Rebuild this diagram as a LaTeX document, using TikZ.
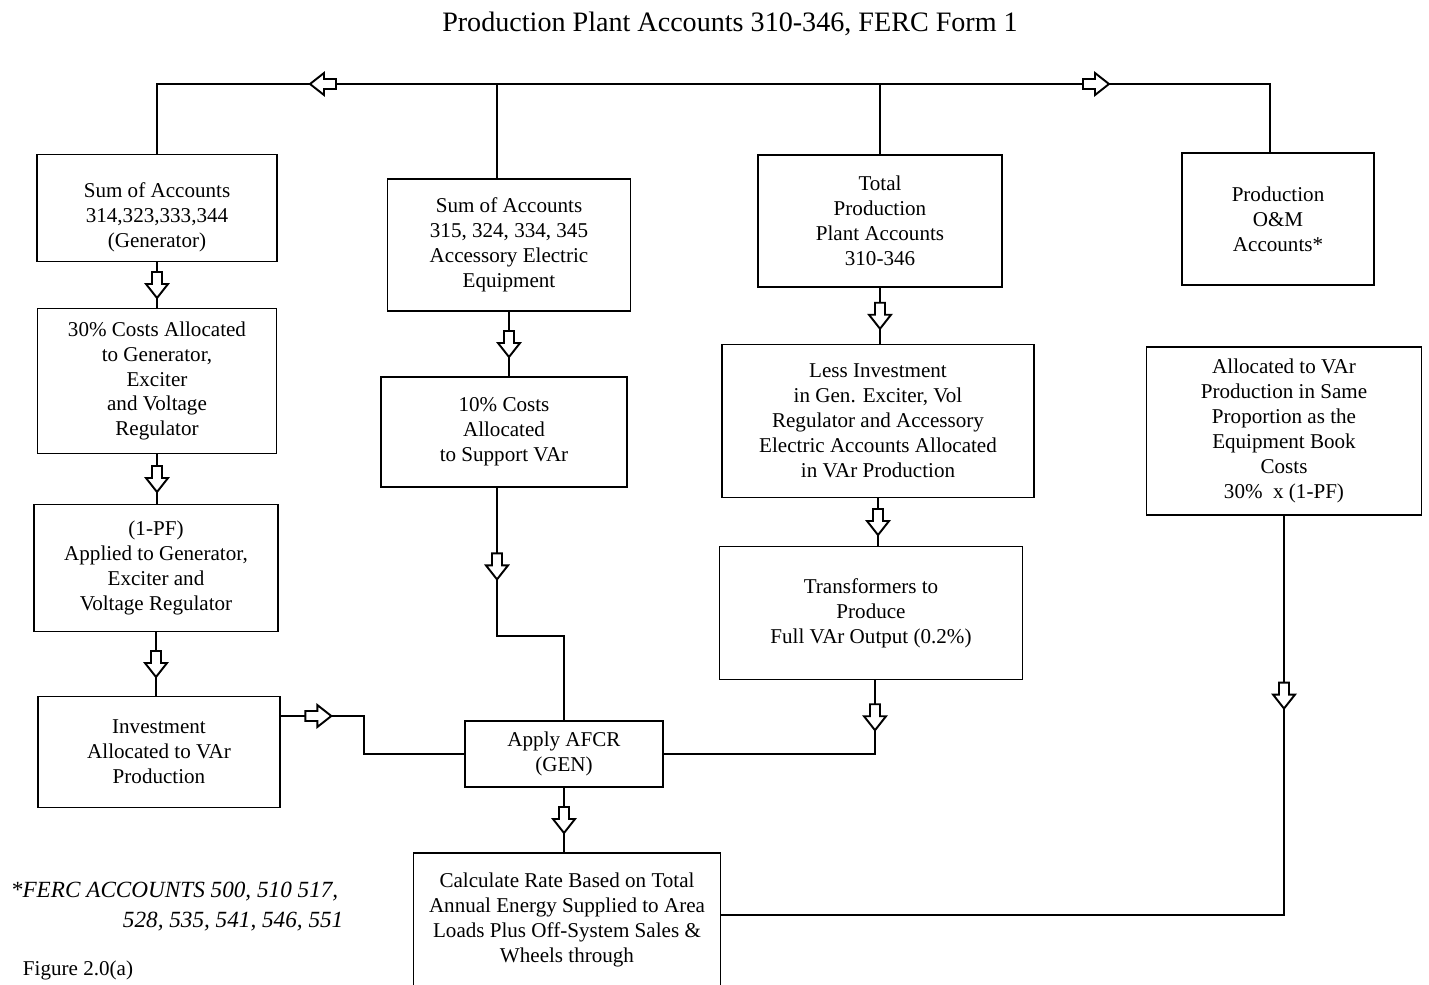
\documentclass[tikz,border=0pt]{standalone}
\usepackage{fontspec}
\setmainfont{Liberation Serif}
\usetikzlibrary{calc}

\tikzset{
  box/.style 2 args={draw, inner sep=0pt, align=center,
    minimum width=#1*0.02cm, minimum height=#2*0.02cm},
  txt/.style={inner sep=0pt},
  note/.style={inner sep=0pt, anchor=west, font=\fontsize{13.2}{15}\selectfont\itshape},
  pics/harrow/.style={code={
    \draw[fill=white] (-13,-5) -- (-1,-5) -- (-1,-11) -- (13,0)
      -- (-1,11) -- (-1,5) -- (-13,5) -- cycle;}}
}
% vertical link with a hollow arrow half way
\newcommand\vlink[2]{%
  \draw (#1.south) -- (#1.south |- #2.north) coordinate[midway] (#1-mid);
  \pic[rotate=-90] at (#1-mid) {harrow};}

\begin{document}
\begin{tikzpicture}[x=0.02cm, y=-0.02cm, line width=1.1pt,
    font=\fontsize{12}{14.2}\selectfont]
  \useasboundingbox (0,0) rectangle (1429,984);
  \clip (0,0) rectangle (1429,984);

  \node[txt] (title) at (730,24) {\fontsize{16}{20}\selectfont Production Plant Accounts 310-346, FERC Form 1};

  \node[box={240}{107}] (gen) at (157,208) {\rule{0pt}{19pt}Sum of Accounts\\314,323,333,344\\(Generator)};
  \node[box={243}{132}] (acc) at (509,245) {Sum of Accounts\\315, 324, 334, 345\\Accessory Electric\\Equipment};
  \node[box={244}{132}] (tot) at (880,221) {Total\\Production\\Plant Accounts\\310-346};
  \node[box={192}{132}] (om) at (1278,219) {Production\\O\&M\\Accounts*};

  \node[box={239}{145}] (gen30) at (157,381) {30\% Costs Allocated\\to Generator,\\Exciter\\and Voltage\\Regulator};
  \node[box={244}{127}] (pf) at (156,568) {(1-PF)\\Applied to Generator,\\Exciter and\\Voltage Regulator};
  \node[box={242}{111}] (inv) at (159,752) {Investment\\Allocated to VAr\\Production};
  \node[box={246}{110}] (acc10) at (504,432) {10\% Costs\\Allocated\\to Support VAr};
  \node[box={312}{153}] (less) at (878,421) {Less Investment\\in Gen. Exciter, Vol\\Regulator and Accessory\\Electric Accounts Allocated\\in VAr Production};
  \node[box={303}{133}] (xfmr) at (871,613) {Transformers to\\Produce\\Full VAr Output (0.2\%)};
  \node[box={275}{168}] (omvar) at (1284,431) {Allocated to VAr\\Production in Same\\Proportion as the\\Equipment Book\\Costs\\30\%~~x (1-PF)};
  \node[box={198}{66}] (afcr) at (564,754) {Apply AFCR\\(GEN)};
  \node[box={307}{134}] (rate) at (567,920) {Calculate Rate Based on Total\\Annual Energy Supplied to Area\\Loads Plus Off-System Sales \&\\Wheels through};

  \node[note] (note1) at (10,892) {*FERC ACCOUNTS 500, 510 517,};
  \node[note] (note2) at (122,922) {528, 535, 541, 546, 551};
  \node[txt, anchor=west] (fig) at (22,970) {Figure 2.0(a)};

  % top bus
  \coordinate (bus) at (0,84);
  \coordinate (acctop) at ($(acc.north)+(-12,0)$);
  \coordinate (omtop) at ($(om.north)+(-8,0)$);
  \draw (gen.north) |- (omtop |- bus) -- (omtop);
  \draw (acctop) -- (acctop |- bus);
  \draw (tot.north) -- (tot.north |- bus);
  \pic[rotate=180] at (323,84) {harrow};
  \pic at (1096,84) {harrow};

  \vlink{gen}{gen30}
  \vlink{gen30}{pf}
  \vlink{pf}{inv}
  \vlink{acc}{acc10}
  \vlink{tot}{less}
  \vlink{less}{xfmr}
  \vlink{afcr}{rate}

  \coordinate (a10) at ($(acc10.south)+(-7,0)$);
  \draw (a10) -- ++(0,148) coordinate[pos=.53] (a10m) -| (afcr.north);
  \pic[rotate=-90] at (a10m) {harrow};

  \coordinate (invout) at ($(inv.east)+(0,-36)$);
  \draw (invout) -- ++(83,0) coordinate[pos=.45] (invm) |- (afcr.west);
  \pic at (invm) {harrow};

  \coordinate (xout) at ($(xfmr.south)+(4,0)$);
  \draw (xout) |- (afcr.east) coordinate[pos=.25] (xm);
  \pic[rotate=-90] at (xm) {harrow};

  \draw (omvar.south) |- ($(rate.east)+(0,-5)$) coordinate[pos=.225] (om-mid);
  \pic[rotate=-90] at (om-mid) {harrow};
\end{tikzpicture}
\end{document}
